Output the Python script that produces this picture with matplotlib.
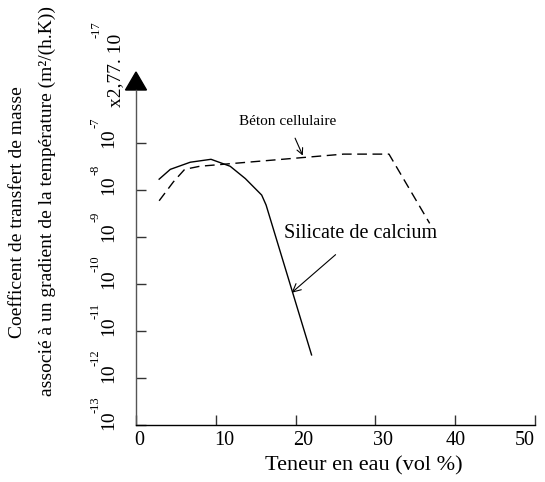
import numpy as np
import matplotlib.pyplot as plt
from matplotlib.patches import Polygon
from matplotlib.transforms import ScaledTranslation

plt.rcParams['font.family'] = ['Liberation Serif', 'DejaVu Serif']

# values (water content in vol %, coefficient)
silicate_x = [2.9, 4.3, 6.8, 9.4, 11.8, 13.7, 15.75, 16.3, 22.0]
silicate_y = [1.7e-8, 2.75e-8, 3.9e-8, 4.5e-8, 3.2e-8, 1.75e-8, 7.8e-9, 4.8e-9, 3.1e-12]

beton_x = [2.9, 4.7, 6.1, 8.0, 26.0, 31.7, 36.8]
beton_y = [5.9e-9, 1.5e-8, 2.75e-8, 3.2e-8, 5.8e-8, 5.8e-8, 1.95e-9]

x_ticks = [0, 10, 20, 30, 40, 50]
y_exponents = [-13, -12, -11, -10, -9, -8, -7]

W, H = 545, 482
fig = plt.figure(figsize=(W / 100, H / 100), dpi=100)
# axes box in pixels: x 136..535, y 90..425
ax = fig.add_axes([136 / W, (H - 425) / H, 399 / W, 335 / H])

ax.plot(silicate_x, silicate_y, color='black', lw=1.0)
ax.plot(beton_x, beton_y, color='black', lw=1.0, dashes=(7, 4))

ax.set_yscale('log')
ax.set_xlim(0, 50)
ax.set_ylim(1e-13, 10 ** (-13 + 335 / 47))

for s in ['top', 'right']:
    ax.spines[s].set_visible(False)
ax.spines['left'].set_color('#555555')
ax.spines['left'].set_linewidth(1.0)
ax.spines['bottom'].set_linewidth(1.0)

ax.set_xticks(x_ticks)
ax.set_xticklabels([str(v) for v in x_ticks], fontsize=14.5)
ax.tick_params(axis='x', direction='in', length=7, width=1, pad=4, colors='#333333',
               labelcolor='black')
# labels sit mostly right of their ticks in the original
for lbl, v in zip(ax.get_xticklabels(), x_ticks):
    if v == 50:
        lbl.set_ha('right')
    elif v == 40:
        lbl.set_ha('center')
    else:
        lbl.set_ha('left')
        lbl.set_transform(lbl.get_transform() +
                          ScaledTranslation(-2 / 100, 0, fig.dpi_scale_trans))

ax.set_yticks([10.0 ** e for e in y_exponents])
ax.set_yticklabels([])
ax.minorticks_off()
ax.tick_params(axis='y', direction='in', length=7, width=1, color='#333333')

# rotated y tick labels: "10" plus exponent
for e in y_exponents:
    off = ScaledTranslation(-27 / 100, 5 / 100, fig.dpi_scale_trans)
    ax.text(0, 10.0 ** e, '10', rotation=90, ha='center', va='center', fontsize=14,
            transform=ax.get_yaxis_transform() + off)
    off2 = ScaledTranslation(-40 / 100, 20 / 100, fig.dpi_scale_trans)
    ax.text(0, 10.0 ** e, str(e), rotation=90, ha='center', va='center', fontsize=9,
            transform=ax.get_yaxis_transform() + off2)

# arrow head at top of y axis
ax.add_patch(Polygon([(-10.5 / 399, 1), (10.5 / 399, 1), (0, 1 + 18 / 335)],
                     closed=True, color='black', transform=ax.transAxes, clip_on=False))

# multiplier label
fig.text(116 / W, 1 - 70 / H, 'x2,77. 10', rotation=90, ha='center', va='center', fontsize=14)
fig.text(97 / W, 1 - 30 / H, '-17', rotation=90, ha='center', va='center', fontsize=9)

# y label in two lines
fig.text(18 / W, 1 - 212 / H, 'Coefficent de transfert de masse', rotation=90,
         ha='center', va='center', fontsize=14)
fig.text(47 / W, 1 - 201 / H, 'associé à un gradient de la température (m²/(h.K))',
         rotation=90, ha='center', va='center', fontsize=14)

fig.text(364 / W, 1 - 466 / H, 'Teneur en eau (vol %)', ha='center', va='center',
         fontsize=16)

ax.annotate('Béton cellulaire', xy=(20.9, 5.4e-8), xytext=(19.0, 2.9e-7),
            ha='center', va='center', fontsize=11,
            arrowprops=dict(arrowstyle='->', color='black', lw=0.8, shrinkA=6, shrinkB=0))
ax.annotate('Silicate de calcium', xy=(19.5, 6.5e-11), xytext=(28.1, 1.2e-9),
            ha='center', va='center', fontsize=14.5,
            arrowprops=dict(arrowstyle='->', color='black', lw=0.8, shrinkA=10, shrinkB=0))

fig.savefig('out.png', dpi=100)
